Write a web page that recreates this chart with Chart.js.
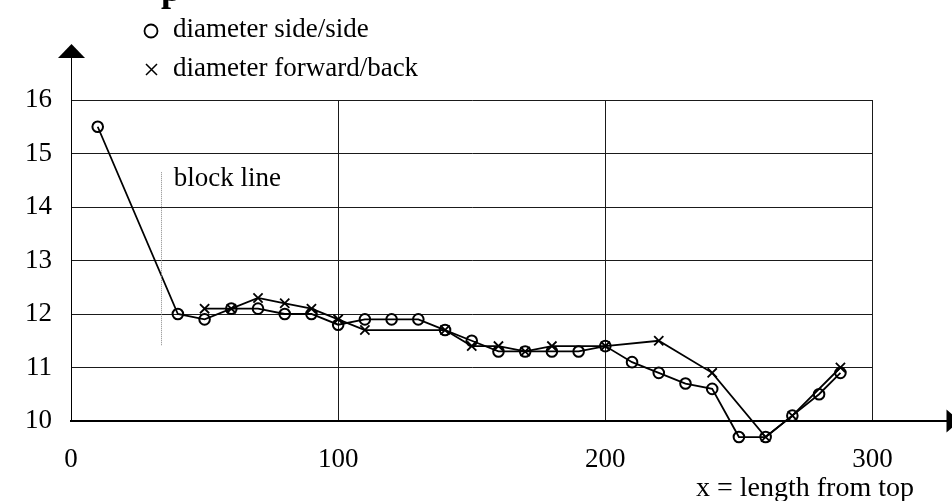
<!DOCTYPE html>
<html>
<head>
<meta charset="utf-8">
<script src="https://cdn.jsdelivr.net/npm/chart.js@4/dist/chart.umd.min.js"></script>
<style>
  html, body { margin: 0; padding: 0; background: #fff; }
  #wrap { width: 952px; height: 501px; position: relative; }
</style>
</head>
<body>
<div id="wrap"><canvas id="c" width="952" height="501"></canvas></div>
<script>
// ---- data ----
const sideX = [10, 40, 50, 60, 70, 80, 90, 100, 110, 120, 130, 140, 150, 160, 170, 180, 190, 200, 210, 220, 230, 240, 250, 260, 270, 280, 288];
const sideY = [15.5, 12.0, 11.9, 12.1, 12.1, 12.0, 12.0, 11.8, 11.9, 11.9, 11.9, 11.7, 11.5, 11.3, 11.3, 11.3, 11.3, 11.4, 11.1, 10.9, 10.7, 10.6, 9.7, 9.7, 10.1, 10.5, 10.9];
const fwdX = [50, 60, 70, 80, 90, 100, 110, 140, 150, 160, 170, 180, 200, 220, 240, 260, 270, 288];
const fwdY = [12.1, 12.1, 12.3, 12.2, 12.1, 11.9, 11.7, 11.7, 11.4, 11.4, 11.3, 11.4, 11.4, 11.5, 10.9, 9.7, 10.1, 11.0];
const seriesLabels = ["diameter side/side", "diameter forward/back"];
const xTicks = [0, 100, 200, 300];
const yTicks = [10, 11, 12, 13, 14, 15, 16];
const xAxisTitle = "x = length from top";
const blockLineLabel = "block line";
const blockLineX = [33.5];
const blockLineY = [11.4, 14.65];
const blockLabelPos = [38.5, 14.4];
const titleFragment = "p";

const FONT = "'Liberation Serif', 'Times New Roman', serif";

const toPts = (xs, ys) => xs.map((x, i) => ({ x: x, y: ys[i] }));

// let markers just below the x axis (values < 10) still be drawn
const areaExpand = {
  id: 'areaExpand',
  beforeDatasetsDraw(chart) {
    const ca = chart.chartArea;
    chart._savedArea = { left: ca.left, right: ca.right, top: ca.top, bottom: ca.bottom };
    ca.bottom = ca.bottom + 40;
  },
  afterDatasetsDraw(chart) {
    const s = chart._savedArea;
    if (s) { Object.assign(chart.chartArea, s); }
  }
};

const deco = {
  id: 'deco',
  afterDraw(chart) {
    const ctx = chart.ctx;
    const ca = chart.chartArea;
    const xs = chart.scales.x, ys = chart.scales.y;
    const W = chart.width;
    ctx.save();
    // y axis extension + arrow
    const ax = Math.round(xs.getPixelForValue(0)) + 0.5;
    ctx.strokeStyle = '#000';
    ctx.lineWidth = 1;
    ctx.beginPath();
    ctx.moveTo(ax, ca.top);
    ctx.lineTo(ax, 58);
    ctx.stroke();
    ctx.fillStyle = '#000';
    ctx.beginPath();
    ctx.moveTo(ax, 44);
    ctx.lineTo(ax - 13.5, 58);
    ctx.lineTo(ax + 13.5, 58);
    ctx.closePath();
    ctx.fill();
    // x axis extension + arrow
    const ay = ys.getPixelForValue(yTicks[0]);
    ctx.lineWidth = 2;
    ctx.beginPath();
    ctx.moveTo(ca.right, ay);
    ctx.lineTo(W - 4, ay);
    ctx.stroke();
    ctx.beginPath();
    ctx.moveTo(W - 5.5, ay - 11.5);
    ctx.lineTo(W + 8, ay);
    ctx.lineTo(W - 5.5, ay + 11.5);
    ctx.closePath();
    ctx.fill();
    // block line (dotted)
    const bx = Math.round(xs.getPixelForValue(blockLineX[0])) + 0.5;
    ctx.strokeStyle = '#888';
    ctx.lineWidth = 1;
    ctx.setLineDash([1, 1]);
    ctx.beginPath();
    ctx.moveTo(bx, ys.getPixelForValue(blockLineY[1]));
    ctx.lineTo(bx, ys.getPixelForValue(blockLineY[0]));
    ctx.stroke();
    ctx.setLineDash([]);
    ctx.fillStyle = '#000';
    ctx.font = "27px " + FONT;
    ctx.textBaseline = 'alphabetic';
    ctx.textAlign = 'left';
    ctx.fillText(blockLineLabel, xs.getPixelForValue(blockLabelPos[0]), ys.getPixelForValue(blockLabelPos[1]));
    // legend
    ctx.fillText(seriesLabels[0], 173, 37);
    ctx.fillText(seriesLabels[1], 173, 76);
    ctx.strokeStyle = '#000';
    ctx.lineWidth = 1.8;
    ctx.beginPath();
    ctx.arc(151, 31, 6.5, 0, Math.PI * 2);
    ctx.stroke();
    ctx.lineWidth = 1.5;
    ctx.beginPath();
    ctx.moveTo(146, 64); ctx.lineTo(157, 75);
    ctx.moveTo(157, 64); ctx.lineTo(146, 75);
    ctx.stroke();
    // x axis title
    ctx.font = "28px " + FONT;
    ctx.textAlign = 'right';
    ctx.fillText(xAxisTitle, 914, 496);
    // cut-off title fragment
    ctx.textAlign = 'left';
    ctx.font = "bold 36px " + FONT;
    ctx.fillText(titleFragment, 161, 1);
    ctx.restore();
  }
};

new Chart(document.getElementById('c'), {
  type: 'scatter',
  data: {
    datasets: [
      {
        label: seriesLabels[1],
        data: toPts(fwdX, fwdY),
        showLine: true,
        clip: false,
        borderColor: '#000',
        borderWidth: 1.8,
        pointStyle: 'crossRot',
        pointRadius: 6.5,
        pointBorderWidth: 1.8,
        pointBorderColor: '#000',
        pointBackgroundColor: '#000',
        tension: 0,
        order: 1
      },
      {
        label: seriesLabels[0],
        data: toPts(sideX, sideY),
        showLine: true,
        clip: false,
        borderColor: '#000',
        borderWidth: 1.8,
        pointStyle: 'circle',
        pointRadius: 5.3,
        pointBorderWidth: 2,
        pointBorderColor: '#000',
        pointBackgroundColor: 'rgba(255,255,255,0)',
        tension: 0,
        order: 2
      }
    ]
  },
  options: {
    responsive: false,
    animation: false,
    events: [],
    layout: { padding: { top: 100, right: 79.5, left: 0, bottom: 0 } },
    plugins: { legend: { display: false }, tooltip: { enabled: false }, title: { display: false } },
    scales: {
      x: {
        type: 'linear',
        min: 0, max: 300,
        afterFit(s) { s.height = 80; },
        afterBuildTicks(s) { s.ticks = xTicks.map(v => ({ value: v })); },
        ticks: { color: '#000', font: { family: FONT, size: 27 }, padding: 23, maxRotation: 0 },
        grid: { color: '#1a1a1a', lineWidth: 1, drawTicks: false },
        border: { color: '#000', width: 2 }
      },
      y: {
        type: 'linear',
        min: 10, max: 16,
        afterFit(s) { s.width = 71; },
        afterBuildTicks(s) { s.ticks = yTicks.map(v => ({ value: v })); },
        ticks: { color: '#000', font: { family: FONT, size: 27 }, padding: 19 },
        grid: { color: '#1a1a1a', lineWidth: 1, drawTicks: false },
        border: { color: '#000', width: 1 }
      }
    }
  },
  plugins: [areaExpand, deco]
});
</script>
</body>
</html>
